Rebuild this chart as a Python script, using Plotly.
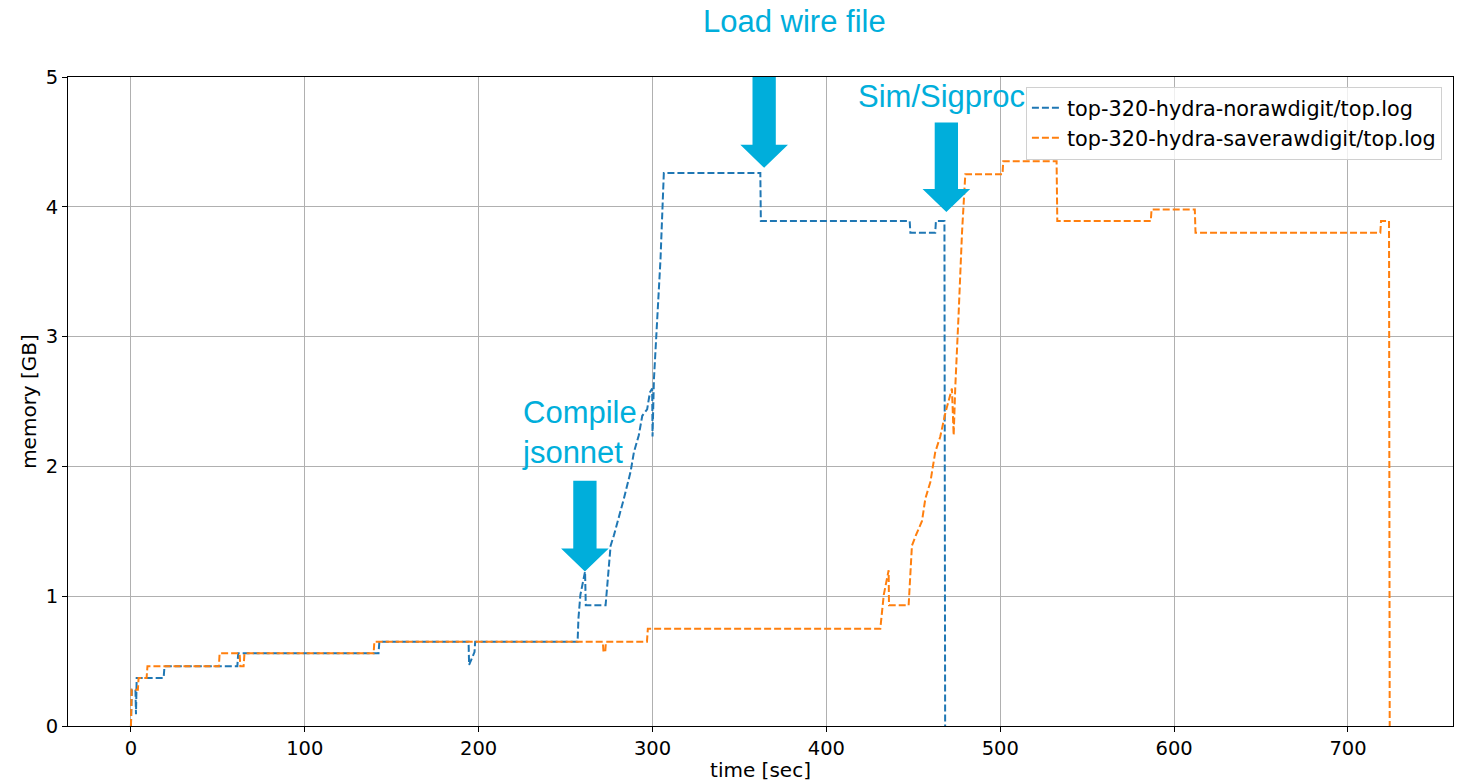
import plotly.graph_objects as go

# ---- data ----
blue_name = "top-320-hydra-norawdigit/top.log"
blue_t = [0, 0.5, 2.6, 2.9, 3.3, 18.8, 19.3, 61.2, 61.7, 142.4, 142.9,
          194.2, 194.5, 197.6, 198.0, 256.9, 257.4, 258.5, 261.2, 261.6,
          273.0, 275.9, 277.8, 281.6, 283.5, 287.4, 289.3, 292.1, 294.1,
          296.9, 298.5, 299.8, 300.0, 300.8, 304.6, 306.5, 362.0, 362.3,
          447.9, 448.3, 462.6, 463.0, 467.9, 468.3]
blue_m = [0, 0.28, 0.28, 0.09, 0.37, 0.37, 0.46, 0.46, 0.56, 0.56, 0.65,
          0.65, 0.47, 0.57, 0.65, 0.65, 0.83, 1.01, 1.19, 0.93,
          0.93, 1.39, 1.47, 1.65, 1.75, 1.96, 2.11, 2.24, 2.39,
          2.44, 2.57, 2.60, 2.23, 2.67, 3.60, 4.26, 4.26, 3.89,
          3.89, 3.80, 3.80, 3.89, 3.89, 0]

orange_name = "top-320-hydra-saverawdigit/top.log"
orange_t = [0, 0.4, 4.0, 4.4, 9.0, 9.5, 50.6, 51.0, 62.5, 62.9, 64.8, 65.3,
            139.6, 140.0, 271.4, 271.8, 272.8, 273.2, 296.8, 297.3,
            431.0, 433.0, 435.8, 436.0, 447.3, 449.2, 451.5, 455.0, 456.9,
            459.8, 462.6, 465.5, 468.4, 471.3, 472.2, 473.2, 474.1, 476.0,
            478.0, 479.9, 501.3, 501.7, 532.4, 532.8, 586.6, 587.0, 611.9,
            612.3, 718.6, 719.0, 723.6, 724.0]
orange_m = [0, 0.28, 0.28, 0.37, 0.37, 0.46, 0.46, 0.56, 0.56, 0.46, 0.46, 0.56,
            0.56, 0.65, 0.65, 0.57, 0.57, 0.65, 0.65, 0.75,
            0.75, 1.01, 1.20, 0.93, 0.93, 1.39, 1.47, 1.58, 1.75,
            1.88, 2.11, 2.23, 2.41, 2.55, 2.60, 2.24, 2.60, 3.16,
            3.80, 4.25, 4.25, 4.35, 4.35, 3.89, 3.89, 3.98, 3.98,
            3.80, 3.80, 3.89, 3.89, 0]

x_ticks = [0, 100, 200, 300, 400, 500, 600, 700]
y_ticks = [0, 1, 2, 3, 4, 5]

# annotation texts and arrow anchors (tip x, tip y, shaft top y) in data units
phase_labels = ["Compile<br>jsonnet", "Sim/Sigproc"]
phase_label_pos = [(224.0, 2.26), (416.8, 4.85)]
arrows = [(261.1, 1.19, 1.89), (364.2, 4.30, 5.0), (469.0, 3.96, 4.65)]
title_text = "Load wire file"

ACCENT = "#00AEDB"
FONT = "DejaVu Sans"

fig = go.Figure()
fig.add_trace(go.Scatter(x=blue_t, y=blue_m, mode="lines", name=blue_name,
                         line=dict(color="#1f77b4", width=2, dash="7px,3px")))
fig.add_trace(go.Scatter(x=orange_t, y=orange_m, mode="lines", name=orange_name,
                         line=dict(color="#ff7f0e", width=2, dash="7px,3px")))

# block arrows
shaft_hw, head_hw, head_len = 6.7, 13.7, 0.178
for tx, ty, top in arrows:
    hb = ty + head_len
    path = (f"M {tx-shaft_hw},{top} L {tx+shaft_hw},{top} L {tx+shaft_hw},{hb} "
            f"L {tx+head_hw},{hb} L {tx},{ty} L {tx-head_hw},{hb} "
            f"L {tx-shaft_hw},{hb} Z")
    fig.add_shape(type="path", path=path, xref="x", yref="y",
                  fillcolor=ACCENT, line=dict(width=0), layer="above")

for txt, (px, py) in zip(phase_labels, phase_label_pos):
    fig.add_annotation(x=px, y=py, xref="x", yref="y", text=txt, showarrow=False,
                       xanchor="left", yanchor="middle", align="left",
                       font=dict(family="Liberation Sans, Arial", size=31, color=ACCENT))

fig.add_annotation(x=0.5246, y=1.085, xref="paper", yref="paper", text=title_text,
                   showarrow=False, xanchor="center", yanchor="middle",
                   font=dict(family="Liberation Sans, Arial", size=31, color=ACCENT))

axis_common = dict(showgrid=True, gridcolor="#b0b0b0", gridwidth=1,
                   showline=True, linecolor="black", linewidth=1, mirror=True,
                   ticks="outside", ticklen=5, tickcolor="black",
                   zeroline=False, tickfont=dict(family=FONT, size=19.5, color="black"))

fig.update_layout(
    width=1460, height=782,
    margin=dict(l=68, r=6, t=77, b=54),
    plot_bgcolor="white", paper_bgcolor="white",
    font=dict(family=FONT, color="black"),
    showlegend=True,
    legend=dict(x=0.992, y=0.985, xanchor="right", yanchor="top",
                bgcolor="rgba(255,255,255,0.8)", bordercolor="#d0d0d0", borderwidth=1,
                font=dict(family=FONT, size=20.8, color="black"),
                tracegroupgap=0),
    xaxis=dict(range=[-36.2, 760.4], tickvals=x_ticks,
               title=dict(text="time [sec]", font=dict(family=FONT, size=20), standoff=2),
               **axis_common),
    yaxis=dict(range=[0, 5], tickvals=y_ticks,
               title=dict(text="memory [GB]", font=dict(family=FONT, size=20), standoff=3),
               **axis_common),
)

fig.write_html("out.html")
